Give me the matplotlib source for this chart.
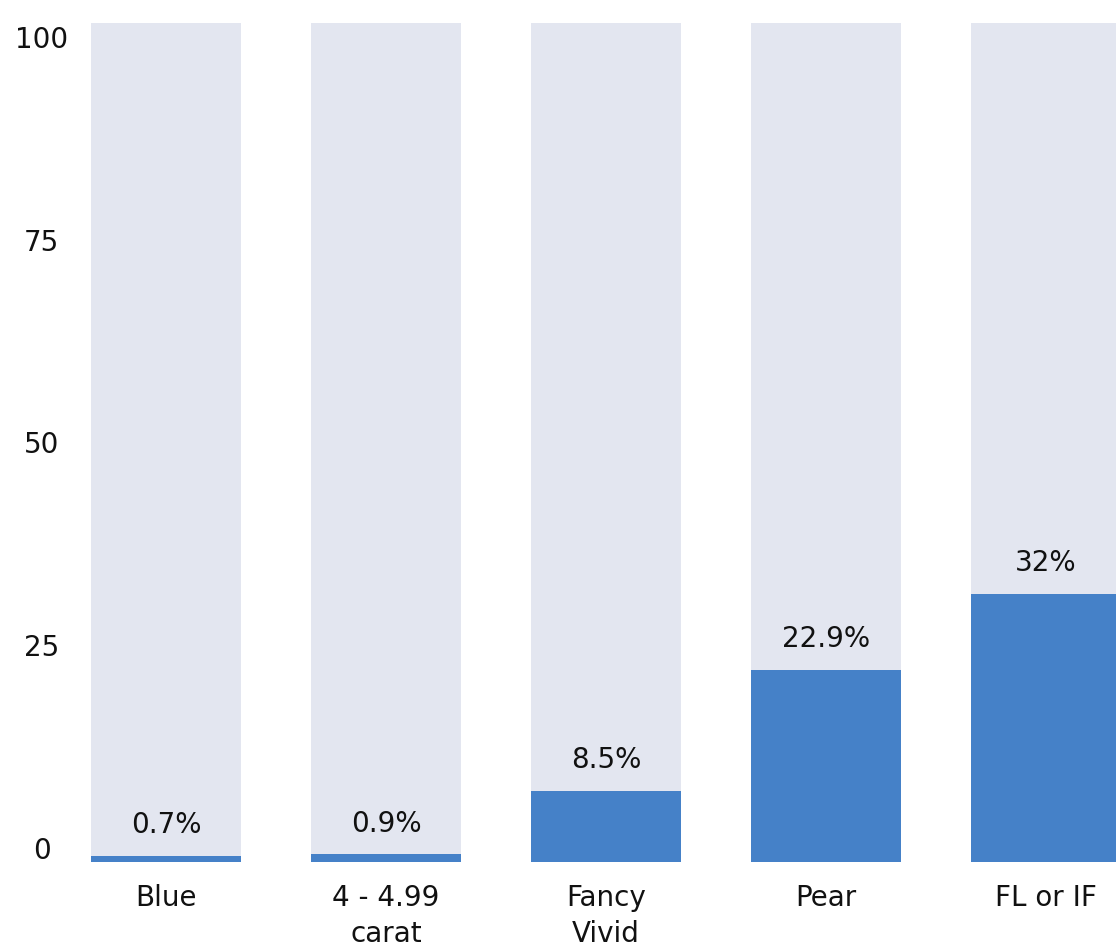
import numpy as np
import matplotlib.pyplot as plt

# data
categories = ['Blue', '4 - 4.99\ncarat', 'Fancy\nVivid', 'Pear', 'FL or IF']
values = [0.7, 0.9, 8.5, 22.9, 32]
value_labels = ['0.7%', '0.9%', '8.5%', '22.9%', '32%']
full = [100, 100, 100, 100, 100]
yticks = [0, 25, 50, 75, 100]

bg_color = '#E3E6F0'
bar_color = '#4581C8'
plt.rcParams['font.family'] = 'DejaVu Sans'

fig = plt.figure(figsize=(11.16, 9.46), dpi=100)
ax = fig.add_axes([0, 0.0888, 1, 0.8869])

x = np.arange(len(categories))
ax.bar(x, full, width=0.682, color=bg_color, zorder=1)
bars = ax.bar(x, values, width=0.682, color=bar_color, zorder=2)
for b, lab in zip(bars, value_labels):
    ax.annotate(lab, (b.get_x() + b.get_width() / 2, b.get_height()),
                xytext=(0, 12), textcoords='offset points',
                ha='center', va='bottom', fontsize=20, color='#111111')

ax.set_xlim(-0.7545, 4.318)
ax.set_ylim(0, 100)
ax.set_xticks(x)
ax.set_xticklabels(categories, fontsize=20, color='#111111', linespacing=1.35)
ax.tick_params(axis='x', length=0, pad=16)
ax.set_yticks([])
for s in ax.spines.values():
    s.set_visible(False)

# y tick labels sit on their own scale, slightly offset from the bars
ax2 = fig.add_axes([0, 0.0888, 0.075, 0.8869])
ax2.set_xlim(0, 1)
ax2.set_ylim(-1.36, 102.1)
ax2.axis('off')
for t in yticks:
    ax2.text(0.5, t, str(t), ha='center', va='center', fontsize=20, color='#111111')

fig.savefig('out.png', dpi=100)
